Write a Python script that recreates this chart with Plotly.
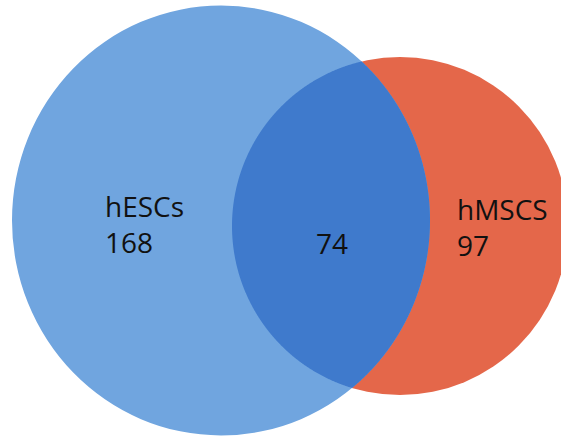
import numpy as np
import plotly.graph_objects as go

# Venn diagram data
set_names = ["hESCs", "hMSCS"]
only_counts = [168, 97]
shared_count = 74

# Geometry in pixel space (x right, y down)
W, H = 561, 437
blue_c, blue_r = (221.0, 220.5), (209.0, 215.0)
red_c, red_r = (400.0, 226.0), (168.0, 169.0)

COL_BLUE = "#70a5df"
COL_RED = "#e4674a"
COL_BOTH = "#3f7acc"


def ellipse_path(c, r):
    x0, y0 = c[0] - r[0], c[1] - r[1]
    x1, y1 = c[0] + r[0], c[1] + r[1]
    return dict(type="circle", xref="x", yref="y", x0=x0, y0=y0, x1=x1, y1=y1)


def inside(px, py, c, r):
    return ((px - c[0]) / r[0]) ** 2 + ((py - c[1]) / r[1]) ** 2 <= 1.0


# Lens outline: arc of the orange circle inside blue, then arc of blue inside orange
t = np.linspace(0, 2 * np.pi, 2000, endpoint=False)
rx = red_c[0] + red_r[0] * np.cos(t)
ry = red_c[1] + red_r[1] * np.sin(t)
bx = blue_c[0] + blue_r[0] * np.cos(t)
by = blue_c[1] + blue_r[1] * np.sin(t)

m_red = inside(rx, ry, blue_c, blue_r)
m_blue = inside(bx, by, red_c, red_r)

pts = np.concatenate([
    np.stack([rx[m_red], ry[m_red]], axis=1),
    np.stack([bx[m_blue], by[m_blue]], axis=1),
])
centroid = pts.mean(axis=0)
ang = np.arctan2(pts[:, 1] - centroid[1], pts[:, 0] - centroid[0])
pts = pts[np.argsort(ang)]
lens = "M " + " L ".join(f"{x:.2f},{y:.2f}" for x, y in pts) + " Z"

shapes = [
    {**ellipse_path(red_c, red_r), "fillcolor": COL_RED, "line": {"width": 0}, "layer": "below"},
    {**ellipse_path(blue_c, blue_r), "fillcolor": COL_BLUE, "line": {"width": 0}, "layer": "below"},
    dict(type="path", path=lens, xref="x", yref="y", fillcolor=COL_BOTH,
         line={"width": 0}, layer="below"),
]

font = dict(family="Open Sans, Lato, sans-serif", size=28, color="#111111")
annotations = [
    dict(x=103, y=224, text=f"{set_names[0]}<br>{only_counts[0]}", xanchor="left",
         yanchor="middle", align="left"),
    dict(x=332, y=243, text=str(shared_count), xanchor="center", yanchor="middle"),
    dict(x=455, y=227, text=f"{set_names[1]}<br>{only_counts[1]}", xanchor="left",
         yanchor="middle", align="left"),
]
for a in annotations:
    a.update(xref="x", yref="y", showarrow=False, font=font)

fig = go.Figure()
fig.add_trace(go.Scatter(x=[0, W], y=[0, H], mode="markers",
                         marker=dict(opacity=0), hoverinfo="skip", showlegend=False))
fig.update_layout(
    width=W, height=H,
    margin=dict(l=0, r=0, t=0, b=0),
    paper_bgcolor="white", plot_bgcolor="white",
    shapes=shapes, annotations=annotations,
    xaxis=dict(range=[0, W], visible=False, fixedrange=True),
    yaxis=dict(range=[H, 0], visible=False, fixedrange=True),
    showlegend=False,
)
fig.write_html("out.html")
